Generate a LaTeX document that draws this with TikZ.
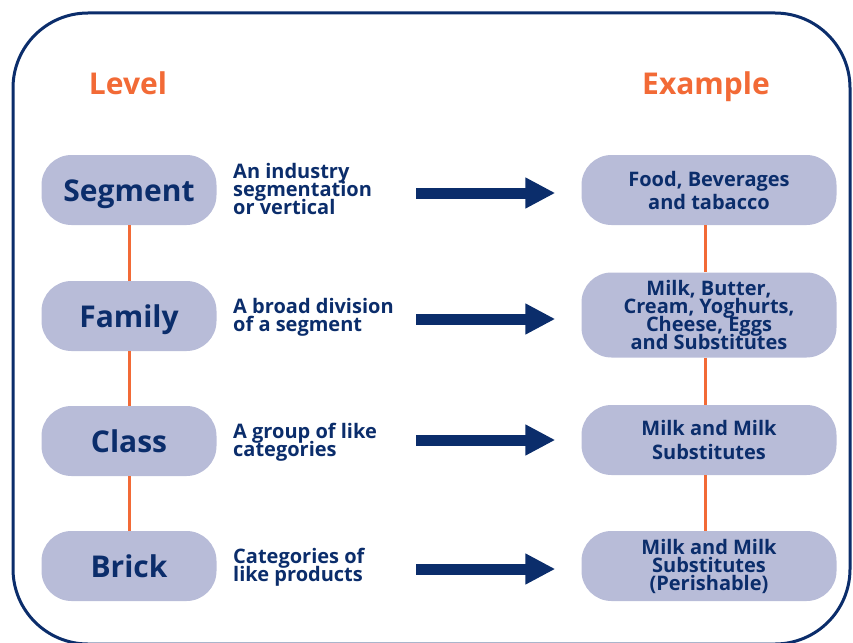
\documentclass[tikz,border=0pt]{standalone}
\usepackage{fontspec}
\setmainfont{Open Sans}
\usepackage{tikz}
\usepackage{xcolor}
\usetikzlibrary{arrows.meta}

\definecolor{navy}{HTML}{0B2D6B}
\definecolor{gsorange}{HTML}{F26A36}
\definecolor{lavender}{HTML}{B8BCD8}

% tight leading, no extra \lineskip between lines
\newcommand{\tightfont}[2]{\fontsize{#1}{#2}\bfseries\lineskiplimit=-20pt\relax}

\begin{document}
\begin{tikzpicture}[x=1pt,y=-1pt,
  frame/.style={draw=navy,line width=3pt,rounded corners=75pt},
  head/.style={text=gsorange,font=\fontsize{30}{30}\bfseries,anchor=base},
  lvbox/.style={fill=lavender,rounded corners=30pt,minimum width=175pt,minimum height=70pt,
    inner sep=0pt,text=navy,font=\fontsize{30}{30}\bfseries,text height=22pt,text depth=0pt},
  exbox/.style={fill=lavender,rounded corners=30pt,minimum width=255pt,inner sep=0pt,
    text=navy,align=center},
  desc/.style={text=navy,align=left,anchor=base west,inner sep=0pt,
    font=\tightfont{20}{18}},
  link/.style={draw=gsorange,line width=3pt},
  bigarrow/.style={draw=navy,line width=11pt,shorten >=26pt,
    -{Triangle[length=30pt,width=29pt]}}]
\useasboundingbox (0,0) rectangle (853,642);
\clip (0,0) rectangle (853,642);
\draw[frame] (13,13) rectangle (850,644);
% column titles
\node[head] (lvl) at (128,94) {Level};
\node[head] (exm) at (706,94) {Example};
% levels
\node[lvbox] (seg) at (129,190) {Segment};
\node[lvbox] (fam) at (129,316) {Family};
\node[lvbox] (cls) at (129,441) {Class};
\node[lvbox] (brk) at (129,566) {Brick};
\draw[link] (seg.south) -- (fam.north);
\draw[link] (fam.south) -- (cls.north);
\draw[link] (cls.south) -- (brk.north);
% what each level means (base = last line)
\node[desc] (dseg) at (233,214) {An industry\\segmentation\\or vertical};
\node[desc] (dfam) at (233,331) {A broad division\\of a segment};
\node[desc] (dcls) at (233,456) {A group of like\\categories};
\node[desc] (dbrk) at (233,581) {Categories of\\like products};
% examples
\node[exbox,minimum height=70pt,font=\tightfont{20}{23}] (xseg) at (709,190)
  {Food, Beverages\\and tabacco};
\node[exbox,minimum height=85pt,font=\tightfont{20}{18.3}] (xfam) at (709,315)
  {Milk, Butter,\\Cream, Yoghurts,\\Cheese, Eggs\\and Substitutes};
\node[exbox,minimum height=70pt,font=\tightfont{20}{24}] (xcls) at (709,440)
  {Milk and Milk\\Substitutes};
\node[exbox,minimum height=70pt,font=\tightfont{20}{18}] (xbrk) at (709,566)
  {Milk and Milk\\Substitutes\\(Perishable)};
\draw[link] ([xshift=-4pt]xseg.south) -- ([xshift=-4pt]xfam.north);
\draw[link] ([xshift=-4pt]xfam.south) -- ([xshift=-4pt]xcls.north);
\draw[link] ([xshift=-4pt]xcls.south) -- ([xshift=-4pt]xbrk.north);
% arrows
\coordinate (a1) at (416,193);
\coordinate (a2) at (416,319);
\coordinate (a3) at (416,440);
\coordinate (a4) at (416,569);
\draw[bigarrow] (a1) -- (a1 -| xseg.west);
\draw[bigarrow] (a2) -- (a2 -| xfam.west);
\draw[bigarrow] (a3) -- (a3 -| xcls.west);
\draw[bigarrow] (a4) -- (a4 -| xbrk.west);
\end{tikzpicture}
\end{document}
